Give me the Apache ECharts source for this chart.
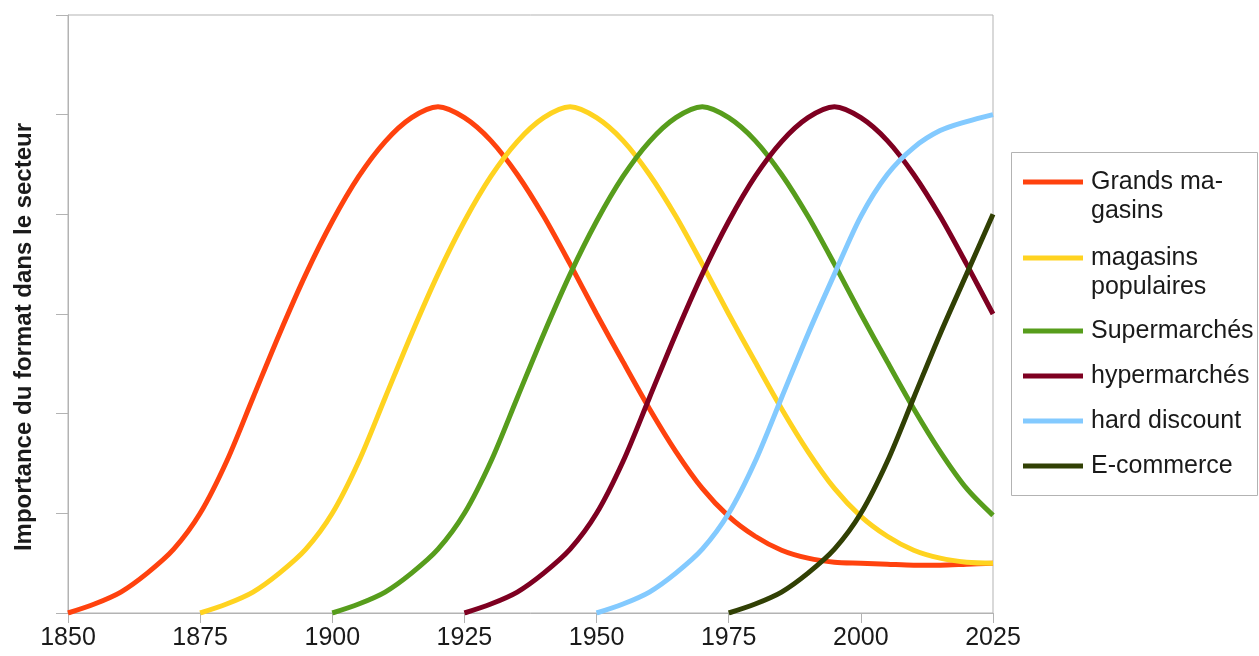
<!DOCTYPE html>
<html>
<head>
<meta charset="utf-8">
<script src="https://cdn.jsdelivr.net/npm/echarts@6/dist/echarts.min.js"></script>
<style>
  html, body { margin: 0; padding: 0; background: #fff; }
  #chart { width: 1259px; height: 656px; }
</style>
</head>
<body>
<div id="chart"></div>
<script>
  // annees (tous les 5 ans, etiquettes tous les 25 ans)
  var years = ['1850', '1855', '1860', '1865', '1870', '1875', '1880', '1885', '1890', '1895',
               '1900', '1905', '1910', '1915', '1920', '1925', '1930', '1935', '1940', '1945',
               '1950', '1955', '1960', '1965', '1970', '1975', '1980', '1985', '1990', '1995',
               '2000', '2005', '2010', '2015', '2020', '2025'];

  // valeurs (null = format pas encore apparu)
  var grandsMagasins = [0, 0.09, 0.21, 0.4, 0.64, 1, 1.52, 2.16, 2.8, 3.4,
                        3.93, 4.38, 4.73, 4.97, 5.08, 4.97, 4.74, 4.4, 3.98, 3.5,
                        3, 2.52, 2.05, 1.62, 1.25, 0.97, 0.77, 0.63, 0.55, 0.51,
                        0.5, 0.49, 0.48, 0.48, 0.49, 0.5];
  var magasinsPopulaires = [null, null, null, null, null, 0, 0.09, 0.21, 0.4, 0.64,
                            1, 1.52, 2.16, 2.8, 3.4, 3.93, 4.38, 4.73, 4.97, 5.08,
                            4.97, 4.74, 4.4, 3.98, 3.5, 3, 2.52, 2.05, 1.62, 1.25,
                            0.97, 0.77, 0.63, 0.55, 0.51, 0.5];
  var supermarches = [null, null, null, null, null, null, null, null, null, null,
                      0, 0.09, 0.21, 0.4, 0.64, 1, 1.52, 2.16, 2.8, 3.4,
                      3.93, 4.38, 4.73, 4.97, 5.08, 4.97, 4.74, 4.4, 3.98, 3.5,
                      3, 2.52, 2.05, 1.62, 1.25, 0.98];
  var hypermarches = [null, null, null, null, null, null, null, null, null, null,
                      null, null, null, null, null, 0, 0.09, 0.21, 0.4, 0.64,
                      1, 1.52, 2.16, 2.8, 3.4, 3.93, 4.38, 4.73, 4.97, 5.08,
                      4.97, 4.74, 4.4, 3.98, 3.5, 3];
  var hardDiscount = [null, null, null, null, null, null, null, null, null, null,
                      null, null, null, null, null, null, null, null, null, null,
                      0, 0.09, 0.21, 0.4, 0.64, 1, 1.52, 2.16, 2.8, 3.4,
                      3.98, 4.4, 4.67, 4.84, 4.93, 5];
  var eCommerce = [null, null, null, null, null, null, null, null, null, null,
                   null, null, null, null, null, null, null, null, null, null,
                   null, null, null, null, null, 0, 0.09, 0.21, 0.4, 0.64,
                   1, 1.52, 2.16, 2.8, 3.4, 4];

  var seriesNames = ['Grands magasins', 'magasins populaires', 'Supermarchés', 'hypermarchés', 'hard discount', 'E-commerce'];
  // une ligne vide en tete pour que la 1re ligne soit en face du trait
  var legendLabels = {
    'Grands magasins': '\nGrands ma-\ngasins',
    'magasins populaires': '\nmagasins\npopulaires'
  };
  var colors = ['#ff420e', '#ffd320', '#579d1c', '#7e0021', '#83caff', '#314004'];
  var allData = [grandsMagasins, magasinsPopulaires, supermarches, hypermarches, hardDiscount, eCommerce];

  var myChart = echarts.init(document.getElementById('chart'));

  var series = [];
  for (var i = 0; i < seriesNames.length; i++) {
    series.push({
      name: seriesNames[i],
      type: 'line',
      data: allData[i],
      smooth: 0.3,
      symbol: 'none',
      lineStyle: { width: 5, color: colors[i] },
      itemStyle: { color: colors[i] }
    });
  }

  var legendBase = {
    orient: 'vertical',
    left: 1023,
    padding: 0,
    icon: 'rect',
    itemWidth: 60,
    itemHeight: 5,
    formatter: function (name) {
      return legendLabels[name] || name;
    },
    textStyle: {
      fontFamily: 'Liberation Sans',
      fontSize: 25,
      color: '#1a1a1a',
      lineHeight: 29,
      padding: [0, 0, 0, 3]
    }
  };

  myChart.setOption({
    color: colors,
    animation: false,
    grid: {
      left: 68,
      right: 266,
      top: 15,
      bottom: 43,
      show: true,
      borderColor: '#b3b3b3',
      borderWidth: 1
    },
    legend: [
      Object.assign({}, legendBase, { top: 138.5, data: ['Grands magasins'] }),
      Object.assign({}, legendBase, { top: 214.5, data: ['magasins populaires'] }),
      Object.assign({}, legendBase, {
        top: 316.5,
        itemGap: 16,
        data: ['Supermarchés', 'hypermarchés', 'hard discount', 'E-commerce']
      })
    ],
    graphic: [{
      type: 'rect',
      shape: { x: 1011.5, y: 152.5, width: 246, height: 343 },
      style: { fill: 'none', stroke: '#b3b3b3', lineWidth: 1 },
      silent: true
    }],
    xAxis: {
      type: 'category',
      boundaryGap: false,
      data: years,
      axisLine: { lineStyle: { color: '#b3b3b3', width: 1 } },
      axisTick: { length: 10, interval: 4, lineStyle: { color: '#b3b3b3' } },
      axisLabel: {
        interval: 4,
        fontFamily: 'Liberation Sans',
        fontSize: 25,
        color: '#1a1a1a',
        margin: 13
      },
      splitLine: { show: false }
    },
    yAxis: {
      type: 'value',
      min: 0,
      max: 6,
      interval: 1,
      name: 'Importance du format dans le secteur',
      nameLocation: 'middle',
      nameGap: 32,
      nameTextStyle: {
        fontFamily: 'Liberation Sans',
        fontSize: 24,
        fontWeight: 'bold',
        color: '#1a1a1a',
        padding: [0, 46, 0, 0]
      },
      axisLine: { show: true, lineStyle: { color: '#b3b3b3', width: 1 } },
      axisTick: { show: true, length: 12, lineStyle: { color: '#b3b3b3' } },
      axisLabel: { show: false },
      splitLine: { show: false }
    },
    series: series
  });
</script>
</body>
</html>
